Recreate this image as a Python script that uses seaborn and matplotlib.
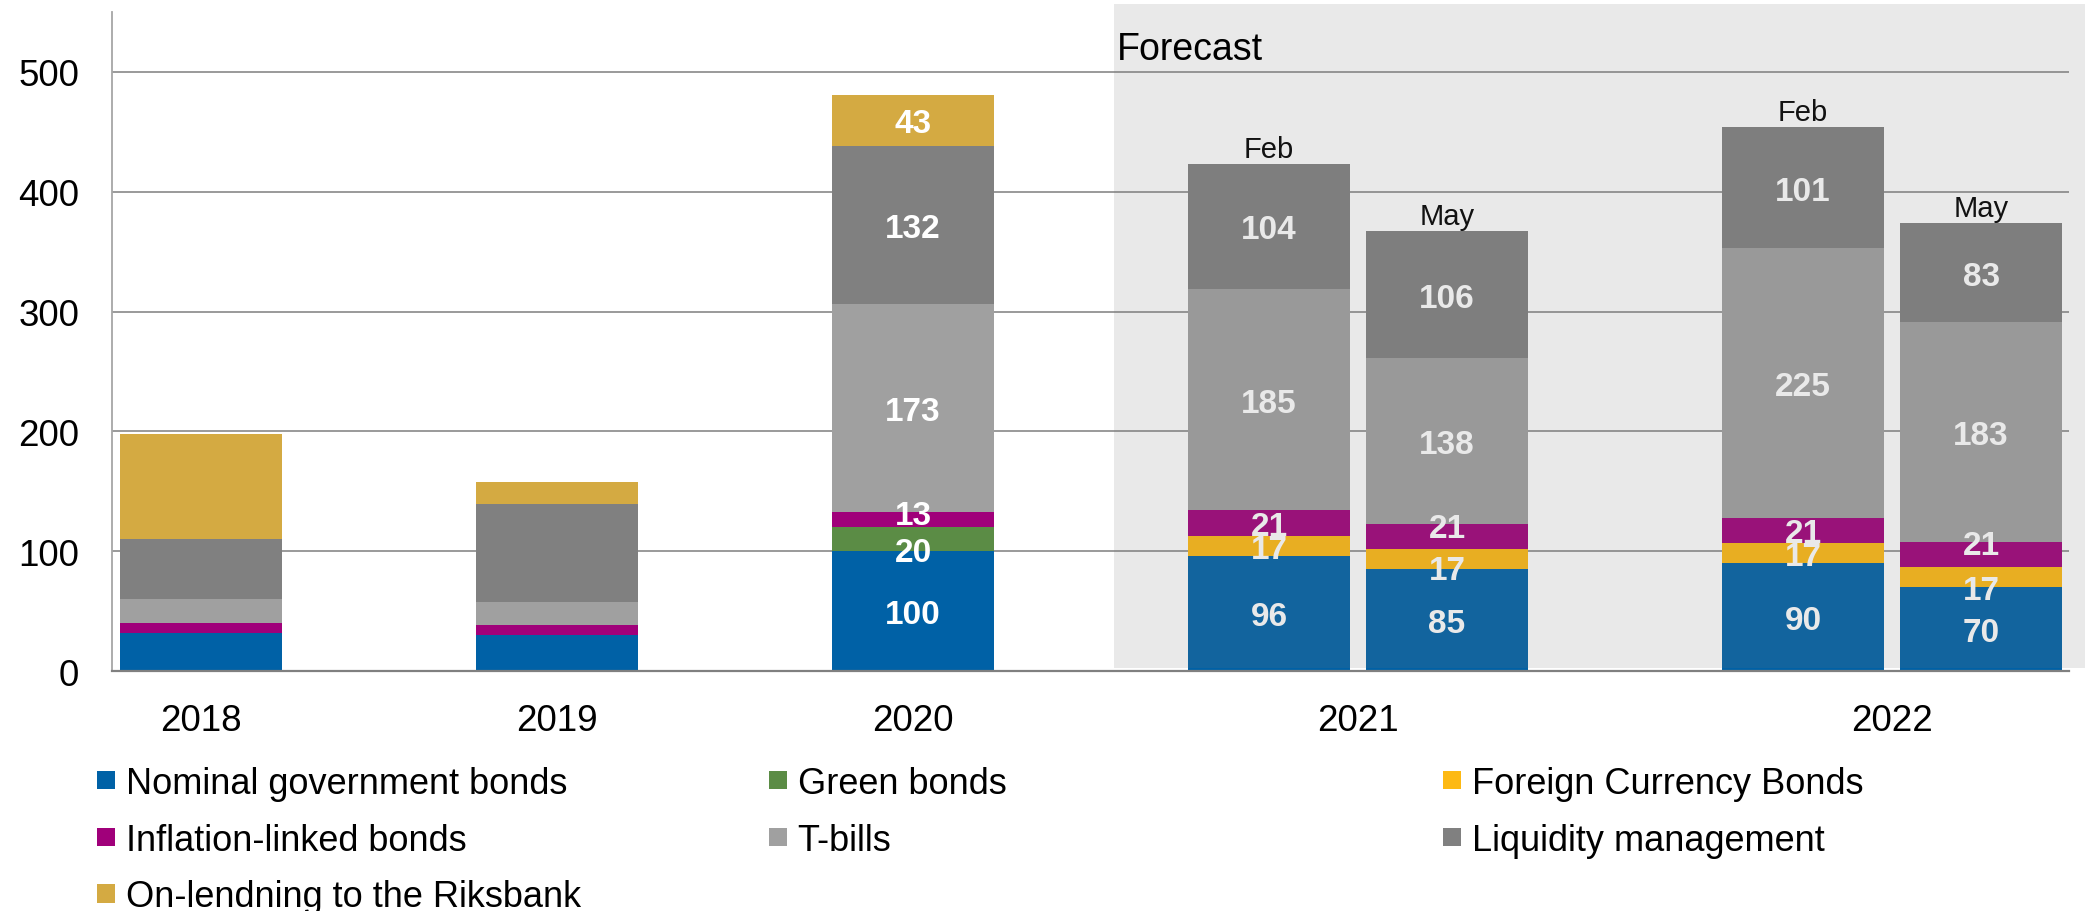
import matplotlib
matplotlib.use("Agg")
import matplotlib.pyplot as plt
from matplotlib.patches import Patch
import numpy as np
import pandas as pd
import seaborn as sns

# Central government borrowing requirement by instrument, SEK bn
periods = ["2018", "2019", "2020", "2021 Feb", "2021 May", "2022 Feb", "2022 May"]
nominal = [32, 30, 100, 96, 85, 90, 70]
green = [0, 0, 20, 0, 0, 0, 0]
foreign = [0, 0, 0, 17, 17, 17, 17]
inflation = [8, 8, 13, 21, 21, 21, 21]
tbills = [20, 20, 173, 185, 138, 225, 183]
liquidity = [50, 81, 132, 104, 106, 101, 83]
onlending = [88, 19, 43, 0, 0, 0, 0]
show_values = [False, False, True, True, True, True, True]
forecast_tags = ["", "", "", "Feb", "May", "Feb", "May"]
years = ["2018", "2019", "2020", "2021", "2022"]

series_names = ["Nominal government bonds", "Green bonds", "Foreign Currency Bonds",
                "Inflation-linked bonds", "T-bills", "Liquidity management",
                "On-lendning to the Riksbank"]
series_values = [nominal, green, foreign, inflation, tbills, liquidity, onlending]
series_colors = ["#0061A6", "#5B8C45", "#FDB913", "#A0007A", "#A0A0A0", "#808080", "#D4AA42"]

# Layout of the bar slots (the two forecast vintages sit side by side)
bar_pos = [0, 1, 2, 3, 3.5, 4.5, 5]
year_pos = [0, 1, 2, 3.25, 4.75]

# Small shifts (in SEK bn) for value labels in thin segments
label_nudge = {(2, 1): -8, (2, 3): 6, (4, 2): -7, (4, 3): 9, (6, 2): -8, (6, 3): 10}

sns.set_theme(style="white")
plt.rcParams["font.family"] = ["Liberation Sans", "DejaVu Sans"]
plt.rcParams["text.color"] = "black"
plt.rcParams["xtick.color"] = "black"
plt.rcParams["ytick.color"] = "black"

W, H, DPI = 2085, 912, 100
fig = plt.figure(figsize=(W / DPI, H / DPI), dpi=DPI)
ax = fig.add_axes([112 / W, (H - 672) / H, (2069 - 112) / W, (672 - 13) / H])

df = pd.DataFrame({"pos": bar_pos})
cum = np.zeros(len(periods))
cums = []
for vals in series_values:
    cum = cum + np.array(vals, dtype=float)
    cums.append(cum.copy())

# Stacked bars: draw cumulative totals from the top layer downwards
for k in range(len(series_values) - 1, -1, -1):
    df["total"] = cums[k]
    sns.barplot(data=df, x="pos", y="total", native_scale=True, width=0.91,
                color=series_colors[k], saturation=1, errorbar=None,
                linewidth=0, edgecolor="none", ax=ax, zorder=2)

# Value labels inside the segments
for i in range(len(periods)):
    if not show_values[i]:
        continue
    base = 0.0
    for k, vals in enumerate(series_values):
        v = vals[i]
        if v > 0:
            y = base + v / 2 + label_nudge.get((i, k), 0)
            ax.text(bar_pos[i], y, f"{v}", ha="center", va="center_baseline",
                    color="white", fontsize=24, fontweight="bold", zorder=4)
        base += v

# Forecast vintage tags above the bars
for i, tag in enumerate(forecast_tags):
    if tag:
        ax.annotate(tag, (bar_pos[i], cums[-1][i]), xytext=(0, 5.3),
                    textcoords="offset points", ha="center", va="baseline",
                    fontsize=21, color="black", zorder=4)

ax.set_xlim(-0.25, 5.247)
ax.set_ylim(0, 550)
ax.set_yticks([0, 100, 200, 300, 400, 500])
ax.set_xticks(year_pos)
ax.set_xticklabels(years)
ax.set_xlabel("")
ax.set_ylabel("")
ax.tick_params(axis="both", length=0, labelsize=26.5, colors="black")
ax.tick_params(axis="y", pad=23.5)
ax.tick_params(axis="x", pad=23)

ax.set_axisbelow(True)
ax.yaxis.grid(True, color="#7f7f7f", linewidth=1.1)
ax.xaxis.grid(False)
for side in ["top", "right"]:
    ax.spines[side].set_visible(False)
ax.spines["left"].set_color("#a6a6a6")
ax.spines["left"].set_linewidth(1.3)
ax.spines["bottom"].set_color("#808080")
ax.spines["bottom"].set_linewidth(1.6)
ax.spines["bottom"].set_zorder(6)

# Shaded forecast area
ax.axvspan(2.5646, 5.292, ymin=0.0046, ymax=1.012, facecolor="#797979", alpha=0.157,
           linewidth=0, zorder=10, clip_on=False)
ax.text(2.573, 0.929, "Forecast", transform=ax.get_xaxis_transform(), ha="left",
        va="baseline", fontsize=27, color="black", zorder=11)

# Legend in three columns
handles = [Patch(facecolor=c, edgecolor="none", label=n)
           for c, n in zip(series_colors, series_names)]
columns = [[0, 3, 6], [1, 4], [2, 5]]
col_x = [97, 769, 1443]
for idx, x0 in zip(columns, col_x):
    fig.legend(handles=[handles[j] for j in idx], loc="upper left",
               bbox_to_anchor=(x0 / W, 1 - 767 / H), frameon=False,
               fontsize=26, handlelength=0.512, handleheight=0.411,
               handletextpad=0.28, labelspacing=0.6, borderpad=0,
               borderaxespad=0, labelcolor="black")

fig.savefig("out.png", dpi=DPI)
